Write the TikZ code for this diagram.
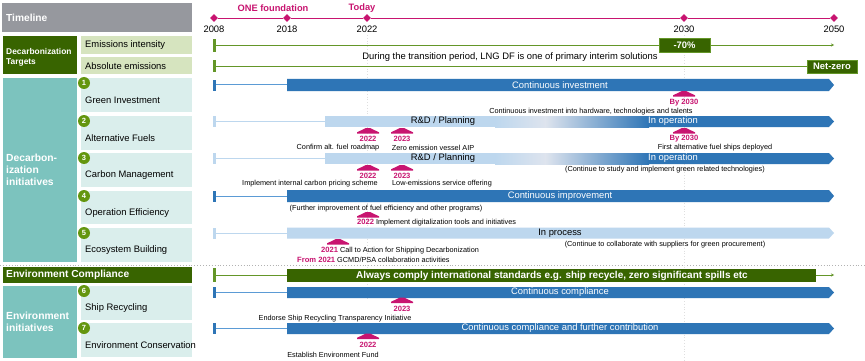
\documentclass[tikz,border=0pt]{standalone}
\usepackage{fontspec}
\setmainfont{Liberation Sans}
\usetikzlibrary{shapes.geometric,arrows.meta}
\definecolor{tlgray}{RGB}{150,152,158}
\definecolor{dkgreen}{RGB}{56,100,0}
\definecolor{ltgreen}{RGB}{214,228,191}
\definecolor{tealbox}{RGB}{124,195,190}
\definecolor{ltteal}{RGB}{218,238,236}
\definecolor{dkblue}{RGB}{46,117,182}
\definecolor{ltblue}{RGB}{189,215,238}
\definecolor{paleblue}{RGB}{222,228,238}
\definecolor{lnblue}{RGB}{91,155,213}
\definecolor{mag}{RGB}{200,20,112}
\definecolor{circgreen}{RGB}{100,150,15}
\definecolor{tickgreen}{RGB}{100,150,40}
\tikzset{
  t94/.style={font=\fontsize{9.4}{11}\selectfont, inner sep=0pt},
  t73/.style={font=\fontsize{7.3}{8.8}\selectfont, inner sep=0pt},
  magb/.style={font=\fontsize{7.6}{9}\selectfont\bfseries, text=mag, inner sep=0pt},
  whb/.style={text=white, inner sep=0pt, anchor=west, align=left},
  rowlbl/.style={t94, anchor=west},
  num/.style={circle, fill=circgreen, text=white, font=\fontsize{7.5}{8}\selectfont\bfseries, inner sep=0pt, minimum size=12pt},
  yr/.style={diamond, fill=mag, inner sep=0pt, minimum size=8pt},
  hat/.pic={\fill[mag] (-11,0) -- (-11,-1.2) -- (-2,-5.5) -- (2,-5.5) -- (11,-1.2) -- (11,0) -- cycle;},
}
\begin{document}
\begin{tikzpicture}[x=1pt,y=-1pt]
\useasboundingbox (0,0) rectangle (865,361);
\fill[white] (0,0) rectangle (865,361);

% ---------- left panel ----------
\fill[tlgray] (2,3) rectangle (192,32);
\node[whb, font=\fontsize{10.2}{12}\selectfont\bfseries] (timeline) at (6,18) {Timeline};

\fill[dkgreen] (3,36) rectangle (77,74);
\node[whb, font=\fontsize{8.4}{10}\selectfont\bfseries] (dtargets) at (6,57) {Decarbonization\\Targets};
\fill[ltgreen] (81,36) rectangle (192,54);
\node[rowlbl] (eint) at (85,45) {Emissions intensity};
\fill[ltgreen] (81,57) rectangle (192,74);
\node[rowlbl] (eabs) at (85,66) {Absolute emissions};

\fill[tealbox] (3,78) rectangle (77,262);
\node[whb, font=\fontsize{10.3}{12}\selectfont\bfseries] (dinit) at (6,170) {Decarbon-\\ization\\initiatives};
\foreach \t/\b/\n/\lab in {78/112/1/Green Investment,116/150/2/Alternative Fuels,153/187/3/Carbon Management,191/224/4/Operation Efficiency,228/262/5/Ecosystem Building}{
  \fill[ltteal] (81,\t) rectangle (192,\b);
  \node[num] (c\n) at (84,\t+5) {\n};
  \node[rowlbl] (r\n) at (85,\t+22) {\lab};
}

\draw[gray!60, dotted, line width=0.9pt] (0,265) -- (865,265);

\fill[dkgreen] (3,267) rectangle (192,283);
\node[whb, font=\fontsize{10.2}{12}\selectfont\bfseries] (ecomp) at (6,275) {Environment Compliance};

\fill[tealbox] (3,286) rectangle (77,358);
\node[whb, font=\fontsize{10.3}{12}\selectfont\bfseries] (einit) at (6,322) {Environment\\initiatives};
\foreach \t/\b/\n/\lab in {286/320/6/Ship Recycling,323/357/7/Environment Conservation}{
  \fill[ltteal] (81,\t) rectangle (192,\b);
  \node[num] (c\n) at (84,\t+5) {\n};
  \node[rowlbl] (r\n) at (85,\t+22) {\lab};
}

% ---------- timeline ----------
\draw[gray!25, dotted, line width=0.8pt] (367,35) -- (367,300);
\draw[gray!25, dotted, line width=0.8pt] (684,35) -- (684,361);

\node[yr] (y2008) at (214,18) {};
\node[yr] (y2018) at (287,18) {};
\node[yr] (y2022) at (367,18) {};
\node[yr] (y2030) at (684,18) {};
\node[yr] (y2050) at (834,18) {};
\draw[mag, line width=0.8pt] (y2008) -- (y2018) -- (y2022) -- (y2030) -- (y2050);
\foreach \x/\yy in {214/2008,287/2018,367/2022,684/2030,834/2050}{
  \node[t94] (l\yy) at (\x,29.5) {\yy};
}
\node[font=\fontsize{9.3}{11}\selectfont\bfseries, text=mag, inner sep=0pt] (onef) at (273,8) {ONE foundation};
\node[font=\fontsize{9.3}{11}\selectfont\bfseries, text=mag, inner sep=0pt] (today) at (362,8) {Today};

% ---------- targets ----------
\fill[tickgreen] (212.5,39) rectangle (215.5,52);
\node[fill=dkgreen, draw=tickgreen, line width=0.6pt, text=white, font=\fontsize{9.4}{11}\selectfont\bfseries, minimum width=51pt, minimum height=14pt, inner sep=0pt] (m70) at (684.5,45) {-70\%};
\coordinate (eis) at (215.5,45);
\coordinate (eie) at (834,45);
\draw[tickgreen, line width=0.8pt] (eis) -- (m70.west);
\draw[tickgreen, line width=0.8pt, -{Stealth[length=3pt,width=3pt]}] (m70.east) -- (eie);

\fill[tickgreen] (212.5,60) rectangle (215.5,72);
\node[fill=dkgreen, draw=tickgreen, line width=0.6pt, text=white, font=\fontsize{9.4}{11}\selectfont\bfseries, minimum width=50pt, minimum height=13pt, inner sep=0pt] (nz) at (832,66.5) {Net-zero};
\coordinate (eas) at (215.5,66.5);
\draw[tickgreen, line width=0.8pt] (eas) -- (nz.west);
\node[t94] (lng) at (510,57) {During the transition period, LNG DF is one of primary interim solutions};

% ---------- row 1 ----------
\fill[dkblue] (212.5,80) rectangle (215.5,91);
\coordinate (s1) at (215.5,85);
\coordinate (b1) at (287,85);
\draw[lnblue, line width=1pt] (s1) -- (b1);
\fill[dkblue] (287,79) -- (829,79) -- (834,85) -- (829,91) -- (287,91) -- cycle;
\node[t94, text=white] (bt1) at (560,85) {Continuous investment};
\pic at (684,96.5) {hat};
\node[magb] (by1) at (684,102.5) {By 2030};
\node[t73] (a1) at (591,112) {Continuous investment into hardware, technologies and talents};

% ---------- row 2 ----------
\fill[ltblue] (212.5,116) rectangle (215.5,127);
\coordinate (s2) at (215.5,121.5);
\coordinate (b2) at (325,121.5);
\draw[ltblue, line width=1pt] (s2) -- (b2);
\fill[ltblue] (325,116) rectangle (496,127);
\shade[left color=ltblue, right color=paleblue] (495,116) rectangle (546,127);
\shade[left color=paleblue, right color=dkblue] (545,116) rectangle (649,127);
\fill[dkblue] (648,116) -- (829,116) -- (834,121.5) -- (829,127) -- (648,127) -- cycle;
\node[t94] (bt2a) at (443,121.5) {R\&D / Planning};
\node[t94, text=white] (bt2b) at (673,121.5) {In operation};
\pic at (368,133.5) {hat};
\pic at (402,133.5) {hat};
\pic at (684,133.5) {hat};
\node[magb] (m2a) at (368,139) {2022};
\node[magb] (m2b) at (402,139) {2023};
\node[magb] (m2c) at (684,139) {By 2030};
\node[t73] (a2a) at (338,148) {Confirm alt. fuel roadmap};
\node[t73] (a2b) at (433,148) {Zero emission vessel AIP};
\node[t73] (a2c) at (715,148) {First alternative fuel ships deployed};

% ---------- row 3 ----------
\fill[ltblue] (212.5,153) rectangle (215.5,164);
\coordinate (s3) at (215.5,158.5);
\coordinate (b3) at (325,158.5);
\draw[ltblue, line width=1pt] (s3) -- (b3);
\fill[ltblue] (325,153) rectangle (496,164);
\shade[left color=ltblue, right color=paleblue] (495,153) rectangle (546,164);
\shade[left color=paleblue, right color=dkblue] (545,153) rectangle (649,164);
\fill[dkblue] (648,153) -- (829,153) -- (834,158.5) -- (829,164) -- (648,164) -- cycle;
\node[t94] (bt3a) at (443,158.5) {R\&D / Planning};
\node[t94, text=white] (bt3b) at (673,158.5) {In operation};
\pic at (368,170.5) {hat};
\pic at (402,170.5) {hat};
\node[magb] (m3a) at (368,176) {2022};
\node[magb] (m3b) at (402,176) {2023};
\node[t73] (a3c) at (665,169.5) {(Continue to study and implement green related technologies)};
\node[t73] (a3a) at (310,184) {Implement internal carbon pricing scheme};
\node[t73] (a3b) at (442,184) {Low-emissions service offering};

% ---------- row 4 ----------
\fill[dkblue] (212.5,191) rectangle (215.5,202);
\coordinate (s4) at (215.5,196);
\coordinate (b4) at (287,196);
\draw[lnblue, line width=1pt] (s4) -- (b4);
\fill[dkblue] (287,190) -- (829,190) -- (834,196) -- (829,202) -- (287,202) -- cycle;
\node[t94, text=white] (bt4) at (560,196) {Continuous improvement};
\node[t73] (a4a) at (386,208.5) {(Further improvement of fuel efficiency and other programs)};
\pic at (368,217.5) {hat};
\node[t73, anchor=west] (a4b) at (357,223) {\textcolor{mag}{\fontsize{7.6}{9}\selectfont\bfseries 2022} Implement digitalization tools and initiatives};

% ---------- row 5 ----------
\fill[ltblue] (212.5,228) rectangle (215.5,239);
\coordinate (s5) at (215.5,233);
\coordinate (b5) at (287,233);
\draw[ltblue, line width=1pt] (s5) -- (b5);
\fill[ltblue] (287,227.5) -- (829,227.5) -- (834,233) -- (829,238.5) -- (287,238.5) -- cycle;
\node[t94] (bt5) at (560,233) {In process};
\node[t73] (a5c) at (665,245) {(Continue to collaborate with suppliers for green procurement)};
\pic at (338,244.5) {hat};
\node[t73, anchor=west] (a5a) at (321,250.5) {\textcolor{mag}{\fontsize{7.6}{9}\selectfont\bfseries 2021} Call to Action for Shipping Decarbonization};
\node[t73, anchor=west] (a5b) at (297,259.5) {\textcolor{mag}{\fontsize{7.6}{9}\selectfont\bfseries From 2021} GCMD/PSA collaboration activities};

% ---------- environment compliance ----------
\fill[tickgreen] (212.5,268) rectangle (215.5,282);
\coordinate (sc) at (215.5,275);
\coordinate (bc) at (287,275);
\coordinate (ec) at (834,275);
\draw[tickgreen, line width=1pt] (sc) -- (bc);
\fill[dkgreen] (287,268.5) rectangle (816,282);
\coordinate (bce) at (816,275);
\draw[tickgreen, line width=0.8pt, -{Stealth[length=3pt,width=3pt]}] (bce) -- (ec);
\node[whb, anchor=center, font=\fontsize{10}{12}\selectfont\bfseries] (ectext) at (552,275.5) {Always comply international standards e.g. ship recycle, zero significant spills etc};

% ---------- row 6 ----------
\fill[dkblue] (212.5,287) rectangle (215.5,298);
\coordinate (s6) at (215.5,292.5);
\coordinate (b6) at (287,292.5);
\draw[lnblue, line width=1pt] (s6) -- (b6);
\fill[dkblue] (287,287) -- (829,287) -- (834,292.5) -- (829,298) -- (287,298) -- cycle;
\node[t94, text=white] (bt6) at (560,292.5) {Continuous compliance};
\pic at (402,303) {hat};
\node[magb] (m6) at (402,308.5) {2023};
\node[t73] (a6) at (335,318.5) {Endorse Ship Recycling Transparency Initiative};

% ---------- row 7 ----------
\fill[dkblue] (212.5,323) rectangle (215.5,334);
\coordinate (s7) at (215.5,328.5);
\coordinate (b7) at (287,328.5);
\draw[lnblue, line width=1pt] (s7) -- (b7);
\fill[dkblue] (287,323) -- (829,323) -- (834,328.5) -- (829,334) -- (287,334) -- cycle;
\node[t94, text=white] (bt7) at (560,328.5) {Continuous compliance and further contribution};
\pic at (368,339) {hat};
\node[magb] (m7) at (368,345) {2022};
\node[t73] (a7) at (333,354.5) {Establish Environment Fund};
\end{tikzpicture}
\end{document}
